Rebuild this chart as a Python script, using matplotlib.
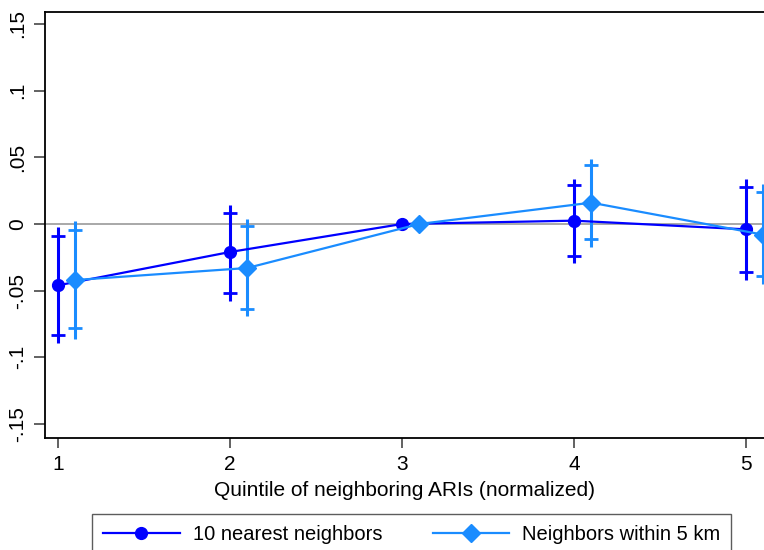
import matplotlib.pyplot as plt
import numpy as np

plt.rcParams["font.family"] = ["Liberation Sans", "DejaVu Sans"]

# Quintiles (3 is the omitted reference category)
quintiles = [1, 2, 3, 4, 5]

# 10 nearest neighbors
near_coef = [-0.046, -0.021, 0.0, 0.0025, -0.004]
near_lo95 = [-0.089, -0.058, 0.0, -0.029, -0.042]
near_hi95 = [-0.002, 0.014, 0.0, 0.034, 0.0335]
near_lo90 = [-0.083, -0.052, 0.0, -0.024, -0.036]
near_hi90 = [-0.009, 0.0085, 0.0, 0.0295, 0.028]

# Neighbors within 5 km
km_coef = [-0.042, -0.033, 0.0, 0.016, -0.008]
km_lo95 = [-0.086, -0.069, 0.0, -0.017, -0.045]
km_hi95 = [0.002, 0.0035, 0.0, 0.049, 0.030]
km_lo90 = [-0.078, -0.0635, 0.0, -0.0115, -0.039]
km_hi90 = [-0.0045, -0.0015, 0.0, 0.044, 0.024]

y_ticks = [-0.15, -0.1, -0.05, 0, 0.05, 0.1, 0.15]
y_tick_labels = ["-.15", "-.1", "-.05", "0", ".05", ".1", ".15"]

DARK = "#0000ff"
LIGHT = "#1a8cff"


def draw_series(ax, x, coef, lo95, hi95, lo90, hi90, color, marker, ms, label):
    x = np.asarray(x, dtype=float)
    has_ci = np.asarray(lo95) != np.asarray(hi95)
    # 95% CI: plain line
    ax.vlines(x[has_ci], np.asarray(lo95)[has_ci], np.asarray(hi95)[has_ci],
              color=color, lw=2.2, zorder=3)
    # 90% CI: caps
    for v in (lo90, hi90):
        v = np.asarray(v)
        ax.plot(x[has_ci], v[has_ci], ls="none", marker="_", ms=10,
                mew=2.0, color=color, zorder=3)
    ax.plot(x, coef, color=color, lw=1.6, marker=marker, ms=ms,
            label=label, zorder=4)


fig = plt.figure(figsize=(7.64, 5.5), dpi=100)
ax = fig.add_axes([45 / 764, 1 - 438 / 550, 1 - 45 / 764, (438 - 12) / 550])

ax.axhline(0, color="#999999", lw=1.2, zorder=1)

draw_series(ax, quintiles, near_coef, near_lo95, near_hi95, near_lo90, near_hi90,
            DARK, "o", 8.5, "10 nearest neighbors")
draw_series(ax, np.asarray(quintiles) + 0.1, km_coef, km_lo95, km_hi95, km_lo90, km_hi90,
            LIGHT, "D", 9, "Neighbors within 5 km")

ax.set_xlim(0.924, 5.105)
ax.set_ylim(-0.1605, 0.159)
ax.set_xticks(quintiles)
ax.set_xticklabels([str(q) for q in quintiles])
ax.set_yticks(y_ticks)
ax.set_yticklabels(y_tick_labels, rotation=90, va="center")
ax.tick_params(axis="both", direction="out", length=7, width=1.3, labelsize=15,
               color="#555555")
ax.tick_params(axis="y", length=8, pad=5)
ax.tick_params(axis="x", pad=5)
ax.spines["right"].set_visible(False)
for s in ("left", "bottom", "top"):
    ax.spines[s].set_linewidth(1.3)

ax.set_xlabel("Quintile of neighboring ARIs (normalized)", fontsize=15, labelpad=5)

handles, labels = ax.get_legend_handles_labels()
fig.legend(handles, labels, loc="upper left", bbox_to_anchor=(92 / 764, 1 - 514 / 550),
           ncol=2, frameon=True, fancybox=False, edgecolor="#333333", fontsize=14.5,
           handlelength=3.8, handletextpad=0.65, columnspacing=2.5,
           borderpad=0.55, borderaxespad=0)

fig.savefig("out.png", dpi=100)
